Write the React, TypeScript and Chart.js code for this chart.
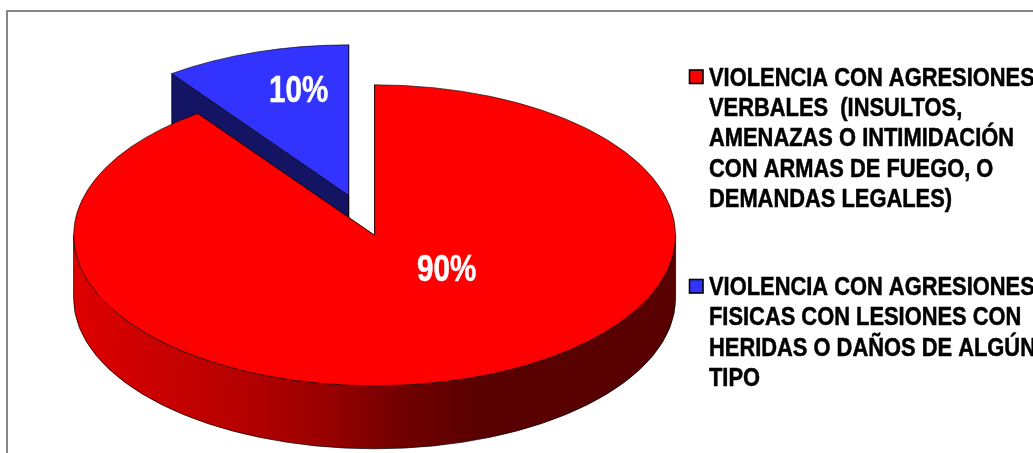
import React, { useEffect, useRef } from "react";
import { Chart, registerables } from "chart.js";

Chart.register(...registerables);

const categories: string[][] = [
  ["VIOLENCIA CON AGRESIONES", "VERBALES  (INSULTOS,", "AMENAZAS O INTIMIDACIÓN", "CON ARMAS DE FUEGO, O", "DEMANDAS LEGALES)"],
  ["VIOLENCIA CON AGRESIONES", "FISICAS CON LESIONES CON", "HERIDAS O DAÑOS DE ALGÚN", "TIPO"],
];
const values = [90, 10];
const valueLabels = ["90%", "10%"];
const topColors = ["#ff0000", "#3333ff"];
const cutColors = ["#990000", "#141464"];
const explosions = [0, 84];

const W = 1033;
const H = 453;
const RADIUS = 301;
const TILT = 0.5;
const DEPTH = 63;
const NARROW = 0.82;
const LEGEND_NARROW = 0.875;
const labelOffsets = [[72, 36], [-50, -103]];
const legendMarkerY = [70, 279.5];
const legendBaseline = [85.7, 295];

const pie3d = {
  id: "pie3d",
  afterDatasetsUpdate(chart: any) {
    const arcs = chart.getDatasetMeta(0).data;
    arcs.forEach((a: any, i: number) => {
      const mid = (a.startAngle + a.endAngle) / 2;
      a.x += Math.cos(mid) * explosions[i];
      a.y += Math.sin(mid) * explosions[i];
    });
  },
  beforeDraw(chart: any) {
    const { ctx } = chart;
    ctx.save();
    ctx.fillStyle = "#ffffff";
    ctx.fillRect(0, 0, W, H);
    ctx.strokeStyle = "#868686";
    ctx.lineWidth = 2;
    ctx.strokeRect(7, 11, W + 100, H + 100);
    ctx.restore();
  },
  beforeDatasetsDraw(chart: any) {
    const { ctx, chartArea } = chart;
    const pivot = (chartArea.top + chartArea.bottom) / 2;
    const arcs = chart.getDatasetMeta(0).data;
    const sy = (y: number) => pivot + (y - pivot) * TILT;

    ctx.save();
    ctx.lineWidth = 0.7;
    ctx.strokeStyle = "#000000";
    for (let i = arcs.length - 1; i >= 0; i--) {
      const a = arcs[i];
      const ax = a.x;
      const ay = sy(a.y);
      const r = a.outerRadius;
      for (const ang of [a.startAngle, a.endAngle]) {
        ctx.beginPath();
        ctx.moveTo(ax, ay);
        ctx.lineTo(ax + r * Math.cos(ang), ay + r * TILT * Math.sin(ang));
        ctx.lineTo(ax + r * Math.cos(ang), ay + r * TILT * Math.sin(ang) + DEPTH);
        ctx.lineTo(ax, ay + DEPTH);
        ctx.closePath();
        ctx.fillStyle = cutColors[i];
        ctx.fill();
        ctx.stroke();
      }
      const a0 = Math.max(a.startAngle, 0);
      const a1 = Math.min(a.endAngle, Math.PI);
      if (a1 > a0) {
        const g = ctx.createLinearGradient(ax - r, 0, ax + r, 0);
        g.addColorStop(0, "#e00000");
        g.addColorStop(0.1, "#cf0000");
        g.addColorStop(0.27, "#b80000");
        g.addColorStop(0.42, "#990000");
        g.addColorStop(0.55, "#700000");
        g.addColorStop(0.68, "#590000");
        g.addColorStop(1, "#590000");
        ctx.beginPath();
        ctx.ellipse(ax, ay, r, r * TILT, 0, a0, a1);
        ctx.ellipse(ax, ay + DEPTH, r, r * TILT, 0, a1, a0, true);
        ctx.closePath();
        ctx.fillStyle = g;
        ctx.fill();
        ctx.stroke();
      }
    }
    ctx.restore();

    ctx.save();
    ctx.translate(0, pivot);
    ctx.scale(1, TILT);
    ctx.translate(0, -pivot);
  },
  afterDatasetsDraw(chart: any) {
    const { ctx, chartArea } = chart;
    ctx.restore();
    const pivot = (chartArea.top + chartArea.bottom) / 2;
    const arcs = chart.getDatasetMeta(0).data;

    ctx.save();
    ctx.fillStyle = "#ffffff";
    ctx.strokeStyle = "#ffffff";
    ctx.lineWidth = 0.5;
    ctx.font = 'bold 36px "Liberation Sans", Arial, sans-serif';
    ctx.textAlign = "center";
    ctx.textBaseline = "middle";
    arcs.forEach((a: any, i: number) => {
      const x = a.x + labelOffsets[i][0];
      const y = pivot + (a.y - pivot) * TILT + labelOffsets[i][1];
      ctx.save();
      ctx.translate(x, y);
      ctx.scale(NARROW, 1);
      ctx.fillText(valueLabels[i], 0, 0);
      ctx.strokeText(valueLabels[i], 0, 0);
      ctx.restore();
    });
    ctx.restore();

    ctx.save();
    chart.data.labels.forEach((lines: string[], i: number) => {
      ctx.fillStyle = topColors[i];
      ctx.strokeStyle = "#000000";
      ctx.lineWidth = 1.6;
      ctx.fillRect(689.5, legendMarkerY[i], 13.5, 13.5);
      ctx.strokeRect(689.5, legendMarkerY[i], 13.5, 13.5);
      ctx.fillStyle = "#000000";
      ctx.lineWidth = 0.5;
      ctx.font = 'bold 25px "Liberation Sans", Arial, sans-serif';
      ctx.textAlign = "left";
      ctx.textBaseline = "alphabetic";
      lines.forEach((line, j) => {
        ctx.save();
        ctx.translate(709, legendBaseline[i] + j * 30.3);
        ctx.scale(LEGEND_NARROW, 1);
        ctx.fillText(line, 0, 0);
        ctx.strokeText(line, 0, 0);
        ctx.restore();
      });
    });
    ctx.restore();
  },
};

export default function App() {
  const ref = useRef<HTMLCanvasElement | null>(null);
  useEffect(() => {
    const chart = new Chart(ref.current as HTMLCanvasElement, {
      type: "pie",
      data: {
        labels: categories as any,
        datasets: [
          {
            data: values,
            backgroundColor: topColors,
            borderColor: "#000000",
            borderWidth: 0.8,
            clip: false as any,
          },
        ],
      },
      options: {
        responsive: false,
        animation: false,
        radius: RADIUS,
        layout: { padding: { left: 0, top: 17.6, right: 283.8, bottom: 0 } },
        plugins: { legend: { display: false }, tooltip: { enabled: false } },
      } as any,
      plugins: [pie3d],
    });
    return () => chart.destroy();
  }, []);
  return (
    <div style={{ position: "absolute", left: 0, top: 0, width: W, height: H, overflow: "hidden" }}>
      <canvas ref={ref} width={W} height={H} style={{ display: "block" }} />
    </div>
  );
}
